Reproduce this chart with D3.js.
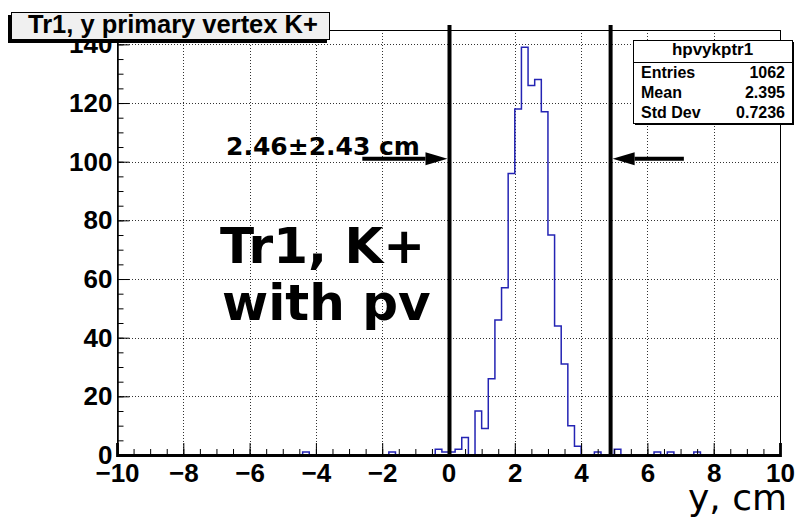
<!DOCTYPE html>
<html>
<head>
<meta charset="utf-8">
<script src="https://cdn.jsdelivr.net/npm/d3@7"></script>
<style>
  body { margin: 0; background: #fff; }
  svg { display: block; }
</style>
</head>
<body>
<div id="chart"></div>
<script>
// histogram hpvykptr1: 100 bins of 0.2 cm from -10 to 10
let xLow = -10, xHigh = 10, binWidth = 0.2;
let counts = [
    0, 0, 0, 0, 0, 0, 0, 0, 0, 0,
    0, 0, 0, 0, 0, 0, 0, 0, 0, 0,
    0, 0, 0, 0, 0, 0, 0, 0, 1, 0,
    0, 0, 0, 0, 0, 0, 0, 0, 0, 0,
    0, 1, 0, 0, 0, 0, 0, 0, 2, 1,
    1, 2, 6, 0, 15, 9, 26, 46, 57, 96,
    118, 139, 126, 128, 117, 75, 44, 31, 10, 3,
    0, 0, 1, 0, 0, 2, 0, 0, 0, 0,
    0, 1, 0, 1, 0, 0, 0, 1, 0, 0,
    0, 0, 0, 0, 0, 0, 0, 0, 0, 0
];
let yTop = 144.9;
let xTicks = [-10, -8, -6, -4, -2, 0, 2, 4, 6, 8, 10];
let yTicks = [0, 20, 40, 60, 80, 100, 120, 140];

let histName = "hpvykptr1";
let statLabels = ["Entries", "Mean", "Std Dev"];
let statValues = ["1062", "2.395", "0.7236"];

let titleText = "Tr1, y primary vertex K+";
let xTitle = "y, cm";
let bigText = ["Tr1, K+", "with pv"];

// window: centre ± half width
let winCentre = 2.46, winHalf = 2.43;
let arrowLevel = 101, arrowFrom = [-2.6, 7.1];

let W = 795, H = 525;
let frame = {left: 117, right: 780, top: 30, bottom: 455};

let svg = d3.select("#chart").append("svg")
    .attr("width", W).attr("height", H);
svg.append("rect").attr("width", W).attr("height", H).attr("fill", "#fff");

let x = d3.scaleLinear().domain([xLow, xHigh]).range([frame.left, frame.right]);
let y = d3.scaleLinear().domain([0, yTop]).range([frame.bottom, frame.top]);

let labelFont = "'Liberation Sans', Arial, sans-serif";
let dejaFont = "'DejaVu Sans', sans-serif";

// dotted grid
let grid = svg.append("g").attr("stroke", "#000").attr("stroke-width", 1)
    .attr("stroke-dasharray", "1,2").attr("opacity", 0.8);
grid.selectAll(".gx").data(xTicks.slice(1, -1)).enter().append("line")
    .attr("x1", d => Math.round(x(d)) + 0.5).attr("x2", d => Math.round(x(d)) + 0.5)
    .attr("y1", frame.top).attr("y2", frame.bottom);
grid.selectAll(".gy").data(yTicks.slice(1)).enter().append("line")
    .attr("x1", frame.left).attr("x2", frame.right)
    .attr("y1", d => Math.round(y(d)) + 0.5).attr("y2", d => Math.round(y(d)) + 0.5);

// histogram outline
let pathPts = [[x(xLow), y(0)]];
counts.forEach((c, i) => {
    let lo = xLow + i * binWidth;
    pathPts.push([x(lo), y(c)], [x(lo + binWidth), y(c)]);
});
pathPts.push([x(xHigh), y(0)]);
svg.append("path")
    .attr("d", d3.line()(pathPts))
    .attr("fill", "none")
    .attr("stroke", "#2424b4")
    .attr("stroke-width", 1.5);

// frame
svg.append("rect")
    .attr("x", frame.left + 0.5).attr("y", frame.top + 0.5)
    .attr("width", frame.right - frame.left).attr("height", frame.bottom - frame.top)
    .attr("fill", "none").attr("stroke", "#000").attr("stroke-width", 1);

// x axis: major + minor ticks pointing inward
let xMinor = d3.range(0, 41).map(i => xLow + i * 0.5);
svg.append("g").attr("transform", `translate(0,${frame.bottom})`)
    .call(d3.axisBottom(x).tickValues(xMinor).tickSize(-6).tickFormat(""))
    .call(g => g.select(".domain").remove());
let xAxis = svg.append("g").attr("transform", `translate(0,${frame.bottom})`)
    .call(d3.axisBottom(x).tickValues(xTicks).tickSize(-12).tickPadding(9)
        .tickFormat(d3.format("d")));
xAxis.select(".domain").attr("stroke-width", 2.8);
xAxis.selectAll("text")
    .attr("font-family", labelFont).attr("font-weight", "bold")
    .attr("font-size", 26).attr("fill", "#000");

// y axis
let yMinor = d3.range(0, 29).map(i => i * 5);
svg.append("g").attr("transform", `translate(${frame.left + 0.5},0)`)
    .call(d3.axisLeft(y).tickValues(yMinor).tickSize(-6).tickFormat(""))
    .call(g => g.select(".domain").remove());
let yAxis = svg.append("g").attr("transform", `translate(${frame.left + 0.5},0)`)
    .call(d3.axisLeft(y).tickValues(yTicks).tickSize(-12).tickPadding(5));
yAxis.select(".domain").attr("stroke-width", 1.5);
yAxis.selectAll("text")
    .attr("font-family", labelFont).attr("font-weight", "bold")
    .attr("font-size", 26).attr("fill", "#000");

// x axis title
svg.append("text")
    .attr("x", 787).attr("y", 510)
    .attr("text-anchor", "end")
    .attr("font-family", dejaFont).attr("font-size", 36)
    .text(xTitle);

// window lines
let winEdges = [winCentre - winHalf, winCentre + winHalf];
svg.selectAll(".win").data(winEdges).enter().append("line")
    .attr("x1", d => x(d)).attr("x2", d => x(d))
    .attr("y1", y(yTop) - 5).attr("y2", y(0) + 2)
    .attr("stroke", "#000").attr("stroke-width", 4);

// arrows pointing at the window edges
let headLen = 22, headHalf = 6.5;
winEdges.forEach((edge, i) => {
    let dir = i === 0 ? 1 : -1;
    let tip = x(edge) - dir * 2;
    let ay = y(arrowLevel);
    svg.append("line")
        .attr("x1", x(arrowFrom[i])).attr("x2", tip - dir * headLen)
        .attr("y1", ay).attr("y2", ay)
        .attr("stroke", "#000").attr("stroke-width", 4);
    svg.append("path")
        .attr("d", `M${tip},${ay} L${tip - dir * headLen},${ay - headHalf} L${tip - dir * headLen},${ay + headHalf} Z`)
        .attr("fill", "#000");
});

svg.append("text")
    .attr("x", 226).attr("y", 155)
    .attr("font-family", dejaFont).attr("font-weight", "bold").attr("font-size", 25)
    .text(`${winCentre.toFixed(2)}±${winHalf.toFixed(2)} cm`);

// big label
svg.selectAll(".big").data(bigText).enter().append("text")
    .attr("x", (d, i) => i === 0 ? 220 : 222)
    .attr("y", (d, i) => 263 + i * 57)
    .attr("font-family", dejaFont).attr("font-weight", "bold").attr("font-size", 50)
    .text(d => d);

// title box with shadow
svg.append("rect").attr("x", 8).attr("y", 15).attr("width", 319).attr("height", 28).attr("fill", "#000");
svg.append("rect").attr("x", 11.5).attr("y", 12.5).attr("width", 318).attr("height", 27)
    .attr("fill", "#f0f0f0").attr("stroke", "#000").attr("stroke-width", 1);
svg.append("text")
    .attr("x", 28).attr("y", 33)
    .attr("font-family", labelFont).attr("font-weight", "bold").attr("font-size", 25.5)
    .text(titleText);

// stats box
let sb = {x: 633, y: 40, w: 159, h: 83};
svg.append("rect").attr("x", sb.x + 2).attr("y", sb.y + 2).attr("width", sb.w).attr("height", sb.h).attr("fill", "#000");
svg.append("rect").attr("x", sb.x + 0.5).attr("y", sb.y + 0.5).attr("width", sb.w).attr("height", sb.h)
    .attr("fill", "#fff").attr("stroke", "#000").attr("stroke-width", 1);
svg.append("line").attr("x1", sb.x).attr("x2", sb.x + sb.w)
    .attr("y1", sb.y + 22.5).attr("y2", sb.y + 22.5).attr("stroke", "#000");
svg.append("text")
    .attr("x", sb.x + sb.w / 2).attr("y", sb.y + 15)
    .attr("text-anchor", "middle")
    .attr("font-family", labelFont).attr("font-weight", "bold").attr("font-size", 17)
    .text(histName);
statLabels.forEach((lab, i) => {
    let by = sb.y + 38 + i * 20;
    svg.append("text").attr("x", sb.x + 8).attr("y", by)
        .attr("font-family", labelFont).attr("font-weight", "bold").attr("font-size", 16)
        .text(lab);
    svg.append("text").attr("x", sb.x + sb.w - 7).attr("y", by)
        .attr("text-anchor", "end")
        .attr("font-family", labelFont).attr("font-weight", "bold").attr("font-size", 16)
        .text(statValues[i]);
});
</script>
</body>
</html>
